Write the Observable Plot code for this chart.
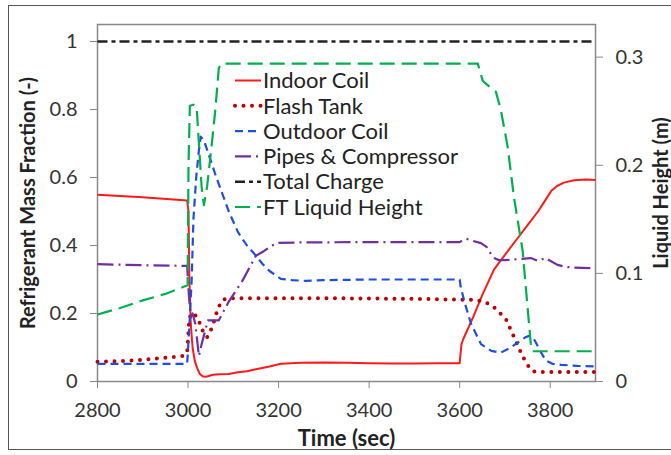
<!DOCTYPE html>
<html>
<head>
<meta charset="utf-8">
<script src="https://cdn.jsdelivr.net/npm/d3@7"></script>
<script src="https://cdn.jsdelivr.net/npm/@observablehq/plot@0.6"></script>
<style>
  html, body { margin: 0; padding: 0; background: #fff; overflow: hidden; }
  #wrap { position: relative; width: 671px; height: 455px; overflow: hidden; background: #fff; }
  #border { position: absolute; left: 8px; top: 5px; width: 720px; height: 445px; border: 1.5px solid #555; box-sizing: border-box; pointer-events: none; }
  #legend { position: absolute; left: 0; top: 0; pointer-events: none; }
</style>
</head>
<body>
<div id="wrap"><div id="border"></div></div>
<script>
// ---- data ----
const xTicks = [2800, 3000, 3200, 3400, 3600, 3800];
const yTicksLeft = [0, 0.2, 0.4, 0.6, 0.8, 1];
const yTicksRight = [0, 0.1, 0.2, 0.3];

const seriesNames = ["Indoor Coil", "Flash Tank", "Outdoor Coil", "Pipes & Compressor", "Total Charge", "FT Liquid Height"];

const indoorT = [2800, 2900, 2998, 3001, 3003, 3006, 3010, 3015, 3020, 3026, 3033, 3040, 3055, 3070, 3090, 3110, 3130, 3150, 3180, 3205, 3250, 3300, 3350, 3400, 3450, 3500, 3550, 3600, 3601, 3604, 3608, 3630, 3650, 3676, 3690, 3710, 3730, 3750, 3773, 3790, 3802, 3815, 3830, 3853, 3880, 3900];
const indoorV = [0.549, 0.542, 0.532, 0.50, 0.30, 0.17, 0.10, 0.06, 0.04, 0.022, 0.015, 0.014, 0.020, 0.021, 0.022, 0.027, 0.030, 0.036, 0.044, 0.052, 0.055, 0.056, 0.055, 0.054, 0.053, 0.053, 0.054, 0.054, 0.07, 0.11, 0.125, 0.19, 0.255, 0.33, 0.355, 0.39, 0.425, 0.46, 0.50, 0.535, 0.56, 0.575, 0.585, 0.592, 0.594, 0.593];

const flashT = [2800, 2850, 2900, 2950, 2990, 2998, 3002, 3006, 3012, 3020, 3028, 3035, 3042, 3050, 3058, 3066, 3076, 3090, 3150, 3300, 3500, 3632, 3655, 3676, 3690, 3702, 3717, 3730, 3742, 3752, 3762, 3780, 3850, 3900];
const flashV = [0.058, 0.060, 0.064, 0.070, 0.075, 0.085, 0.17, 0.20, 0.20, 0.19, 0.165, 0.14, 0.13, 0.15, 0.18, 0.215, 0.24, 0.245, 0.245, 0.245, 0.243, 0.24, 0.235, 0.218, 0.20, 0.184, 0.14, 0.10, 0.067, 0.045, 0.03, 0.028, 0.028, 0.028];

const outdoorT = [2800, 2900, 2998, 3001, 3004, 3008, 3012, 3018, 3024, 3028, 3035, 3045, 3060, 3075, 3090, 3110, 3130, 3150, 3165, 3180, 3205, 3230, 3260, 3300, 3400, 3500, 3600, 3602, 3610, 3625, 3647, 3670, 3691, 3710, 3729, 3745, 3755, 3762, 3770, 3780, 3790, 3805, 3824, 3860, 3900];
const outdoorV = [0.052, 0.052, 0.052, 0.12, 0.19, 0.30, 0.48, 0.60, 0.68, 0.72, 0.71, 0.67, 0.61, 0.555, 0.50, 0.44, 0.40, 0.37, 0.345, 0.325, 0.302, 0.298, 0.296, 0.298, 0.30, 0.30, 0.30, 0.28, 0.237, 0.17, 0.11, 0.09, 0.085, 0.098, 0.115, 0.13, 0.135, 0.13, 0.11, 0.085, 0.062, 0.052, 0.049, 0.046, 0.044];

const pipesT = [2800, 2900, 2998, 3002, 3006, 3010, 3016, 3024, 3030, 3036, 3044, 3068, 3090, 3120, 3150, 3168, 3185, 3200, 3250, 3400, 3600, 3606, 3614, 3625, 3647, 3660, 3669, 3678, 3687, 3700, 3730, 3757, 3773, 3790, 3800, 3816, 3835, 3853, 3900];
const pipesV = [0.345, 0.342, 0.340, 0.25, 0.19, 0.20, 0.17, 0.075, 0.11, 0.14, 0.18, 0.18, 0.235, 0.296, 0.37, 0.384, 0.40, 0.408, 0.409, 0.41, 0.41, 0.415, 0.42, 0.415, 0.407, 0.395, 0.375, 0.362, 0.357, 0.357, 0.36, 0.363, 0.355, 0.363, 0.355, 0.343, 0.337, 0.335, 0.333];

const totalT = [2800, 3900];
const totalV = [1.0, 1.0];

// FT liquid height (m), right axis
const ftT = [2800, 2850, 2900, 2950, 2999, 3001, 3004, 3012, 3019, 3024, 3030, 3035, 3042, 3050, 3060, 3068, 3074, 3100, 3300, 3500, 3640, 3651, 3665, 3680, 3691, 3706, 3720, 3739, 3757, 3760, 3800, 3900];
const ftH = [0.062, 0.068, 0.075, 0.081, 0.089, 0.20, 0.255, 0.256, 0.254, 0.22, 0.18, 0.163, 0.18, 0.21, 0.25, 0.29, 0.294, 0.294, 0.294, 0.294, 0.294, 0.278, 0.273, 0.268, 0.251, 0.217, 0.170, 0.121, 0.035, 0.028, 0.028, 0.028];

// ---- build ----
const K = 3.18; // right-axis metres -> left-axis units
const zip = (T, V, f = v => v) => T.map((t, i) => ({t, v: f(V[i])}));

const styles = [
  {name: seriesNames[0], data: zip(indoorT, indoorV), stroke: "#FF1A1A", width: 2, dash: null, cap: "butt"},
  {name: seriesNames[1], data: zip(flashT, flashV), stroke: "#C00000", width: 4, dash: "0,8.5", cap: "round"},
  {name: seriesNames[2], data: zip(outdoorT, outdoorV), stroke: "#1F4FE0", width: 2.2, dash: "8,5", cap: "butt"},
  {name: seriesNames[3], data: zip(pipesT, pipesV), stroke: "#7030A0", width: 2.2, dash: "16,5,2,5", cap: "butt"},
  {name: seriesNames[4], data: zip(totalT, totalV), stroke: "#222", width: 2.5, dash: "10,4,4,4", cap: "butt"},
  {name: seriesNames[5], data: zip(ftT, ftH, h => h * K), stroke: "#00B050", width: 2.2, dash: "15,7", cap: "butt"}
];

const fmt = d => String(+(+d).toFixed(2));
const FONT = "Lato, 'Open Sans', sans-serif";

const plot = Plot.plot({
  width: 671,
  height: 455,
  marginLeft: 97,
  marginRight: 76,
  marginTop: 24,
  marginBottom: 74,
  style: {fontFamily: FONT, fontSize: "20px", background: "#fff", color: "#333", overflow: "visible"},
  x: {domain: [2800, 3900]},
  y: {domain: [0, 1.05]},
  marks: [
    Plot.frame({stroke: "#888", strokeWidth: 1.5}),
    Plot.axisX(xTicks, {tickSize: 7, tickPadding: 14, tickFormat: d => String(d), stroke: "#888", fill: "#333", label: null}),
    Plot.axisY(yTicksLeft, {anchor: "left", tickSize: 7, tickPadding: 13, tickFormat: fmt, stroke: "#888", fill: "#333", label: null}),
    Plot.axisY(yTicksRight.map(d => d * K), {anchor: "right", tickSize: 7, tickPadding: 13, tickFormat: d => fmt(d / K), stroke: "#888", fill: "#333", label: null}),
    ...styles.map(s => Plot.line(s.data, {
      x: "t", y: "v", stroke: s.stroke, strokeWidth: s.width,
      strokeDasharray: s.dash, strokeLinecap: s.cap, strokeLinejoin: "round"
    })),
    Plot.text(["Refrigerant Mass Fraction (-)"], {frameAnchor: "left", dx: -69, rotate: -90, textAnchor: "middle", lineAnchor: "middle", fontWeight: "bold", fontSize: 20, fill: "#222", text: d => d}),
    Plot.text(["Liquid Height (m)"], {frameAnchor: "right", dx: 66, dy: -10, rotate: -90, textAnchor: "middle", lineAnchor: "middle", fontWeight: "bold", fontSize: 20, fill: "#222", text: d => d}),
    Plot.text(["Time (sec)"], {frameAnchor: "bottom", dy: 57, textAnchor: "middle", lineAnchor: "middle", fontWeight: "bold", fontSize: 22, fill: "#222", text: d => d})
  ]
});

const wrap = document.getElementById("wrap");
wrap.insertBefore(plot, wrap.firstChild);

// legend overlay
const leg = d3.select(wrap).append("svg")
  .attr("id", "legend").attr("width", 671).attr("height", 455);
const LX0 = 235, LX1 = 261, LTX = 263, LY0 = 80.5, LDY = 25.3;
styles.forEach((s, i) => {
  const y = LY0 + i * LDY;
  leg.append("line")
    .attr("x1", LX0).attr("x2", LX1).attr("y1", y).attr("y2", y)
    .attr("stroke", s.stroke).attr("stroke-width", s.width)
    .attr("stroke-dasharray", s.dash).attr("stroke-linecap", s.cap);
  leg.append("text")
    .attr("x", LTX).attr("y", y).attr("dy", "0.35em")
    .attr("font-family", FONT).attr("font-size", 22).attr("fill", "#222")
    .text(s.name);
});
</script>
</body>
</html>
